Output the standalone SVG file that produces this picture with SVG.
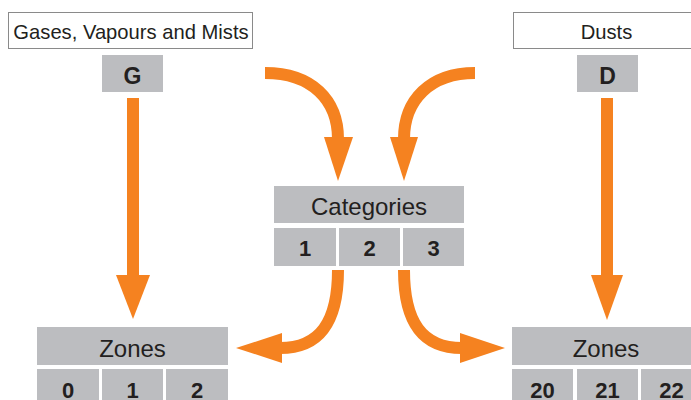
<svg xmlns="http://www.w3.org/2000/svg" width="691" height="400" viewBox="0 0 691 400">
<style>
.lbl{fill:#fff;stroke:#8a8a8a;stroke-width:1}
.box{fill:#bcbdc0}
.t{font-family:"Liberation Sans",Arial,sans-serif;fill:#231f20;text-anchor:middle}
.h{font-size:24px}
.s{font-size:20.2px}
.b{font-size:22px;font-weight:bold}
.bl{font-size:23px;font-weight:bold}
.sh{fill:none;stroke:#f58220;stroke-width:12}
.ah{fill:#f58220}
</style>
<rect width="691" height="400" fill="#fff"/>
<g id="gases">
<rect class="lbl" x="8.5" y="12.5" width="244" height="36"/>
<text class="t s" x="131" y="39">Gases, Vapours and Mists</text>
</g>
<g id="G">
<rect class="box" x="102" y="55" width="61" height="37"/>
<text class="t bl" x="132.5" y="84">G</text>
</g>
<g id="dusts">
<rect class="lbl" x="513.5" y="12.5" width="190" height="36"/>
<text class="t s" x="606.5" y="39">Dusts</text>
</g>
<g id="D">
<rect class="box" x="577" y="55" width="61" height="37"/>
<text class="t bl" x="607.5" y="84">D</text>
</g>
<g id="categories">
<rect class="box" x="274" y="186" width="190" height="37"/>
<text class="t h" x="369" y="215">Categories</text>
<rect class="box" x="274" y="228" width="62" height="38"/>
<rect class="box" x="339" y="228" width="61" height="38"/>
<rect class="box" x="403" y="228" width="61" height="38"/>
<text class="t b" x="305" y="256">1</text>
<text class="t b" x="369.5" y="256">2</text>
<text class="t b" x="433.5" y="256">3</text>
</g>
<g id="zonesG">
<rect class="box" x="37" y="327" width="191" height="38"/>
<text class="t h" x="132.5" y="357">Zones</text>
<rect class="box" x="37" y="369" width="62" height="40"/>
<rect class="box" x="102" y="369" width="61" height="40"/>
<rect class="box" x="166" y="369" width="62" height="40"/>
<text class="t b" x="68" y="398">0</text>
<text class="t b" x="132.5" y="398">1</text>
<text class="t b" x="197" y="398">2</text>
</g>
<g id="zonesD">
<rect class="box" x="512" y="327" width="190" height="38"/>
<text class="t h" x="606" y="357">Zones</text>
<rect class="box" x="512" y="369" width="61" height="40"/>
<rect class="box" x="577" y="369" width="61" height="40"/>
<rect class="box" x="641" y="369" width="61" height="40"/>
<text class="t b" x="542.5" y="398">20</text>
<text class="t b" x="607.5" y="398">21</text>
<text class="t b" x="671.5" y="398">22</text>
</g>
<g id="connectors">
<path class="sh" d="M133,98 V277"/>
<polygon class="ah" points="116,275 150,275 133,319"/>
<path class="sh" d="M607,98 V277"/>
<polygon class="ah" points="591,275 623,275 607,320"/>
<path class="sh" d="M265,73 C312,73 338,100 338,139"/>
<polygon class="ah" points="324,137 353,137 338,181"/>
<path class="sh" d="M475,73 C430,73 404,100 404,139"/>
<polygon class="ah" points="390,137 418,137 404,181"/>
<path class="sh" d="M338,270 C338,322 320,348 280,348"/>
<polygon class="ah" points="282,333 282,363 236,348"/>
<path class="sh" d="M404,270 C404,322 422,348 462,348"/>
<polygon class="ah" points="460,333 460,363 505,348"/>
</g>
</svg>
